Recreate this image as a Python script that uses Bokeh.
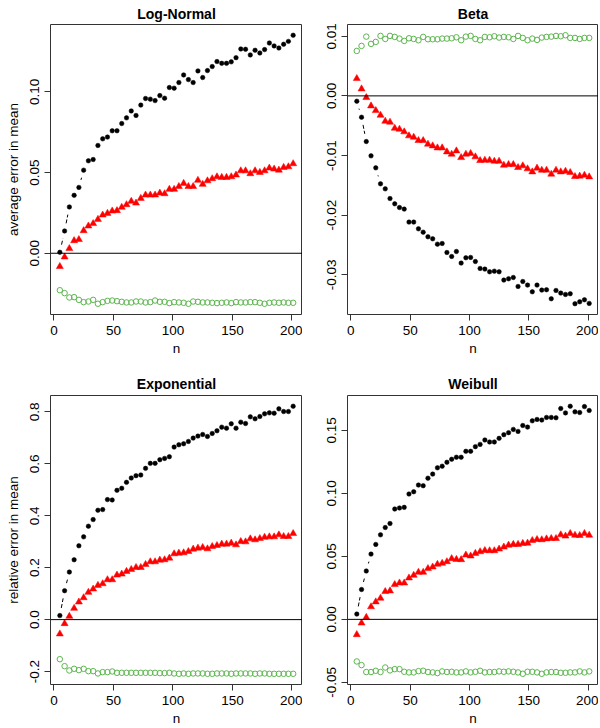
import math
from bokeh.plotting import figure
from bokeh.layouts import gridplot
from bokeh.models import Range1d, FixedTicker, PrintfTickFormatter, Span
from bokeh.embed import file_html
from bokeh.resources import INLINE

n = list(range(5, 202, 4))

# Log-Normal
ln_black = [0.0006, 0.0138, 0.0287, 0.0359, 0.0408, 0.0515, 0.0573, 0.0581, 0.0668, 0.0709,
            0.0720, 0.0759, 0.0759, 0.0804, 0.0839, 0.0882, 0.0854, 0.0918, 0.0959, 0.0955,
            0.0946, 0.0977, 0.0961, 0.1027, 0.1023, 0.1058, 0.1105, 0.1076, 0.1058, 0.1130,
            0.1089, 0.1132, 0.1157, 0.1188, 0.1177, 0.1177, 0.1186, 0.1212, 0.1266, 0.1264,
            0.1229, 0.1258, 0.1241, 0.1262, 0.1303, 0.1285, 0.1272, 0.1295, 0.1313, 0.1351]
ln_red = [-0.0082, -0.0023, 0.0029, 0.0078, 0.0085, 0.0140, 0.0169, 0.0184, 0.0210, 0.0237,
          0.0247, 0.0262, 0.0264, 0.0285, 0.0301, 0.0322, 0.0311, 0.0340, 0.0361, 0.0361,
          0.0361, 0.0373, 0.0369, 0.0396, 0.0396, 0.0414, 0.0433, 0.0414, 0.0414, 0.0452,
          0.0427, 0.0449, 0.0462, 0.0474, 0.0470, 0.0470, 0.0474, 0.0485, 0.0511, 0.0511,
          0.0493, 0.0511, 0.0501, 0.0511, 0.0528, 0.0522, 0.0515, 0.0532, 0.0536, 0.0555]
ln_green = [-0.0229, -0.0247, -0.0274, -0.0272, -0.0289, -0.0303, -0.0299, -0.0289, -0.0313, -0.0303,
            -0.0295, -0.0293, -0.0297, -0.0301, -0.0305, -0.0305, -0.0299, -0.0299, -0.0305, -0.0303,
            -0.0293, -0.0301, -0.0301, -0.0309, -0.0303, -0.0305, -0.0307, -0.0313, -0.0299, -0.0301,
            -0.0305, -0.0305, -0.0307, -0.0309, -0.0307, -0.0305, -0.0309, -0.0303, -0.0305, -0.0305,
            -0.0303, -0.0303, -0.0307, -0.0313, -0.0307, -0.0305, -0.0307, -0.0305, -0.0307, -0.0307]

# Beta
be_black = [-0.00089, -0.00358, -0.00765, -0.01006, -0.01207, -0.01475, -0.01559, -0.01721, -0.01810, -0.01872,
            -0.01899, -0.02117, -0.02117, -0.02229, -0.02285, -0.02363, -0.02397, -0.02486, -0.02475, -0.02626,
            -0.02693, -0.02609, -0.02804, -0.02715, -0.02709, -0.02777, -0.02894, -0.02905, -0.02950, -0.02939,
            -0.02950, -0.03089, -0.03067, -0.03045, -0.03196, -0.03112, -0.03173, -0.03285, -0.03173, -0.03257,
            -0.03251, -0.03402, -0.03263, -0.03307, -0.03330, -0.03318, -0.03486, -0.03453, -0.03419, -0.03480]
be_red = [0.00291, 0.00117, -0.00028, -0.00168, -0.00246, -0.00324, -0.00425, -0.00441, -0.00542, -0.00559,
          -0.00603, -0.00670, -0.00693, -0.00749, -0.00749, -0.00810, -0.00838, -0.00872, -0.00872, -0.00939,
          -0.00978, -0.00922, -0.01034, -0.00978, -0.00966, -0.01022, -0.01084, -0.01078, -0.01078, -0.01095,
          -0.01095, -0.01162, -0.01151, -0.01151, -0.01201, -0.01173, -0.01223, -0.01274, -0.01212, -0.01246,
          -0.01246, -0.01313, -0.01246, -0.01274, -0.01263, -0.01285, -0.01352, -0.01346, -0.01330, -0.01358]
be_green = [0.00754, 0.00838, 0.00994, 0.00872, 0.00905, 0.01006, 0.00955, 0.01006, 0.00989, 0.00961,
            0.00922, 0.00966, 0.00955, 0.00933, 0.00989, 0.00950, 0.00950, 0.00950, 0.00961, 0.00961,
            0.00966, 0.00983, 0.00933, 0.00994, 0.01006, 0.00955, 0.00933, 0.00989, 0.00983, 0.01000,
            0.00978, 0.00989, 0.00983, 0.00955, 0.01006, 0.00972, 0.00933, 0.00961, 0.00939, 0.00978,
            0.00989, 0.00994, 0.01006, 0.01000, 0.01017, 0.00972, 0.00972, 0.00955, 0.00972, 0.00972]

# Exponential
ex_black = [0.0154, 0.1114, 0.1831, 0.2305, 0.2843, 0.3188, 0.3598, 0.3854, 0.4213, 0.4238,
            0.4622, 0.4609, 0.4981, 0.5058, 0.5288, 0.5455, 0.5544, 0.5570, 0.5826, 0.6018,
            0.6018, 0.6159, 0.6210, 0.6274, 0.6645, 0.6735, 0.6773, 0.6863, 0.6991, 0.7068,
            0.7132, 0.7055, 0.7170, 0.7273, 0.7414, 0.7375, 0.7542, 0.7375, 0.7606, 0.7554,
            0.7810, 0.7734, 0.7823, 0.7926, 0.7964, 0.7951, 0.8118, 0.8015, 0.8015, 0.8220]
ex_red = [-0.0551, -0.0154, 0.0128, 0.0435, 0.0679, 0.0845, 0.1050, 0.1178, 0.1319, 0.1383,
          0.1536, 0.1536, 0.1716, 0.1754, 0.1857, 0.1933, 0.2010, 0.2010, 0.2125, 0.2228,
          0.2228, 0.2292, 0.2305, 0.2369, 0.2535, 0.2561, 0.2574, 0.2625, 0.2714, 0.2753,
          0.2778, 0.2727, 0.2817, 0.2855, 0.2907, 0.2907, 0.2945, 0.2881, 0.3009, 0.2996,
          0.3111, 0.3073, 0.3124, 0.3175, 0.3188, 0.3188, 0.3265, 0.3201, 0.3201, 0.3316]
ex_green = [-0.1524, -0.1793, -0.1959, -0.1895, -0.1946, -0.1895, -0.1985, -0.1985, -0.2074, -0.2023,
            -0.2023, -0.1997, -0.2049, -0.2049, -0.2049, -0.2049, -0.2049, -0.2049, -0.2049, -0.2049,
            -0.2049, -0.2061, -0.2061, -0.2049, -0.2074, -0.2087, -0.2074, -0.2087, -0.2074, -0.2074,
            -0.2074, -0.2087, -0.2087, -0.2074, -0.2074, -0.2074, -0.2087, -0.2074, -0.2074, -0.2074,
            -0.2074, -0.2087, -0.2074, -0.2074, -0.2087, -0.2087, -0.2087, -0.2087, -0.2087, -0.2087]

# Weibull
wb_black = [0.0042, 0.0237, 0.0384, 0.0518, 0.0595, 0.0671, 0.0729, 0.0761, 0.0876, 0.0884,
            0.0889, 0.0995, 0.1013, 0.1066, 0.1061, 0.1121, 0.1153, 0.1203, 0.1216, 0.1247,
            0.1271, 0.1287, 0.1287, 0.1334, 0.1334, 0.1371, 0.1389, 0.1424, 0.1408, 0.1408,
            0.1437, 0.1466, 0.1482, 0.1508, 0.1492, 0.1539, 0.1526, 0.1576, 0.1587, 0.1582,
            0.1603, 0.1603, 0.1600, 0.1674, 0.1639, 0.1692, 0.1647, 0.1642, 0.1689, 0.1658]
wb_red = [-0.0121, -0.0029, 0.0016, 0.0100, 0.0139, 0.0168, 0.0221, 0.0226, 0.0276, 0.0289,
          0.0289, 0.0329, 0.0350, 0.0374, 0.0374, 0.0403, 0.0416, 0.0437, 0.0445, 0.0458,
          0.0482, 0.0476, 0.0474, 0.0511, 0.0503, 0.0524, 0.0537, 0.0547, 0.0545, 0.0545,
          0.0558, 0.0574, 0.0589, 0.0595, 0.0595, 0.0603, 0.0605, 0.0626, 0.0634, 0.0632,
          0.0639, 0.0642, 0.0642, 0.0671, 0.0661, 0.0682, 0.0668, 0.0666, 0.0682, 0.0668]
wb_green = [-0.0334, -0.0363, -0.0418, -0.0418, -0.0408, -0.0418, -0.0382, -0.0405, -0.0395, -0.0395,
            -0.0416, -0.0421, -0.0421, -0.0411, -0.0408, -0.0418, -0.0421, -0.0426, -0.0413, -0.0418,
            -0.0416, -0.0421, -0.0421, -0.0413, -0.0421, -0.0416, -0.0408, -0.0421, -0.0418, -0.0418,
            -0.0413, -0.0416, -0.0413, -0.0416, -0.0421, -0.0432, -0.0416, -0.0416, -0.0421, -0.0432,
            -0.0421, -0.0418, -0.0418, -0.0424, -0.0424, -0.0421, -0.0421, -0.0413, -0.0421, -0.0413]

titles = ["Log-Normal", "Beta", "Exponential", "Weibull"]
ylabels = ["average error in mean", None, "relative error in mean", None]
x_ticks = [0, 50, 100, 150, 200]
y_ticks = [
    [0.0, 0.05, 0.10],
    [-0.03, -0.02, -0.01, 0.0, 0.01],
    [-0.2, 0.0, 0.2, 0.4, 0.6, 0.8],
    [-0.05, 0.0, 0.05, 0.10, 0.15],
]
y_formats = ["%.2f", "%.2f", "%.1f", "%.2f"]
series = [
    (ln_black, ln_red, ln_green),
    (be_black, be_red, be_green),
    (ex_black, ex_red, ex_green),
    (wb_black, wb_red, wb_green),
]

FONT = "Liberation Sans"
GREEN = "#5DB64F"
FWS = [252, 251]
FHS = [290, 289]
BORDER_LEFT = [50, 45]
BORDER_TOP = [22, 30]
BORDER_BOTTOM = [51, 45]
TITLE_STANDOFF = [6, 8]


def pad(lo, hi):
    d = (hi - lo) * 0.04
    return lo - d, hi + d


def make(i):
    black, red, green = series[i]
    col = i % 2
    rowi = i // 2
    FW, FH = FWS[col], FHS[rowi]
    x0, x1 = pad(min(n), max(n))
    allv = black + red + green
    y0, y1 = pad(min(allv), max(allv))
    p = figure(
        frame_width=FW, frame_height=FH,
        min_border_left=BORDER_LEFT[col],
        min_border_right=0,
        min_border_top=BORDER_TOP[rowi],
        min_border_bottom=BORDER_BOTTOM[rowi],
        x_range=Range1d(x0, x1), y_range=Range1d(y0, y1),
        output_backend="svg", toolbar_location=None,
        title=titles[i],
    )
    p.title.align = "center"
    p.title.text_font = FONT
    p.title.text_font_size = "14px"
    p.title.text_font_style = "bold"
    p.title.text_color = "black"
    p.title.standoff = TITLE_STANDOFF[rowi]
    p.grid.visible = False
    p.outline_line_color = "#333333"
    p.outline_line_width = 1
    p.background_fill_color = "white"
    p.border_fill_color = "white"

    for ax in (p.xaxis[0], p.yaxis[0]):
        ax.axis_line_color = None
        ax.major_tick_line_color = "#333333"
        ax.major_tick_out = 6
        ax.major_tick_in = 0
        ax.minor_tick_line_color = None
        ax.major_label_text_font = FONT
        ax.major_label_text_font_size = "13.5px"
        ax.major_label_text_color = "black"
        ax.axis_label_text_font = FONT
        ax.axis_label_text_font_size = "13.5px"
        ax.axis_label_text_font_style = "normal"
        ax.axis_label_text_color = "black"
    p.xaxis.ticker = FixedTicker(ticks=x_ticks)
    p.xaxis.axis_label = "n"
    p.xaxis.major_label_standoff = 5
    p.xaxis.axis_label_standoff = 3
    p.yaxis.ticker = FixedTicker(ticks=y_ticks[i])
    p.yaxis.formatter = PrintfTickFormatter(format=y_formats[i])
    p.yaxis.major_label_orientation = "vertical"
    p.yaxis.major_label_standoff = 5
    if ylabels[i]:
        p.yaxis.axis_label = ylabels[i]
        p.yaxis.axis_label_standoff = 7

    p.add_layout(Span(location=0, dimension="width", line_color="black", line_width=1))

    # R type="b" style connector for the black series: segments with gaps at points
    sx = FW / (x1 - x0)
    sy = FH / (y1 - y0)
    gap = 7.8
    xs0, ys0, xs1, ys1 = [], [], [], []
    for k in range(len(n) - 1):
        ax_, ay_ = n[k], black[k]
        bx_, by_ = n[k + 1], black[k + 1]
        dx = (bx_ - ax_) * sx
        dy = (by_ - ay_) * sy
        d = math.hypot(dx, dy)
        if d > 2 * gap + 0.5:
            t0 = gap / d
            t1 = 1 - gap / d
            xs0.append(ax_ + t0 * (bx_ - ax_))
            ys0.append(ay_ + t0 * (by_ - ay_))
            xs1.append(ax_ + t1 * (bx_ - ax_))
            ys1.append(ay_ + t1 * (by_ - ay_))
    if xs0:
        p.segment(xs0, ys0, xs1, ys1, line_color="black", line_width=1, line_dash="4 2")

    p.scatter(n, green, marker="circle", size=5.5, fill_color=None, line_color=GREEN, line_width=1)
    p.scatter(n, red, marker="triangle", size=7, fill_color="#FF0000", line_color="#FF0000", line_width=0.5)
    p.scatter(n, black, marker="circle", size=4.5, fill_color="black", line_color="black", line_width=0.5)
    return p


plots = [make(i) for i in range(4)]
grid = gridplot([[plots[0], plots[1]], [plots[2], plots[3]]], toolbar_location=None)

open("out.html", "w").write(file_html(grid, INLINE))
